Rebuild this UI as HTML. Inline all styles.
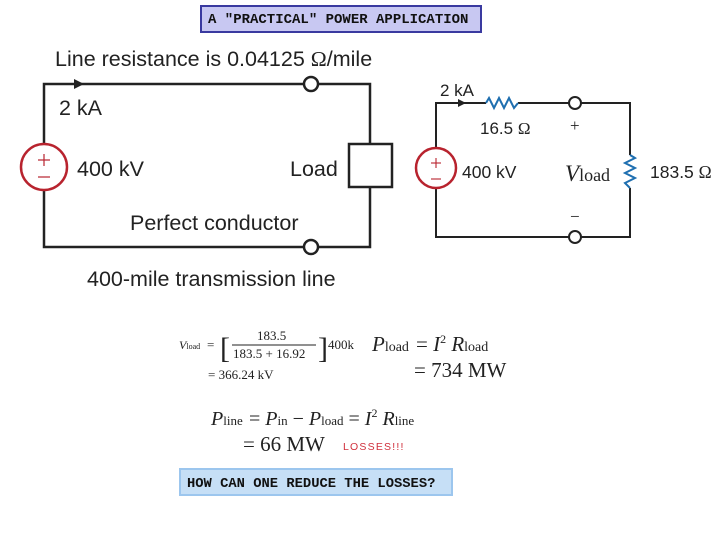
<!DOCTYPE html>
<html><head><meta charset="utf-8"><style>
html,body{margin:0;padding:0;background:#fff;}
svg{display:block;}
.s{font-family:"Liberation Sans",sans-serif;fill:#222;}
.r{font-family:"Liberation Serif",serif;fill:#222;}
.m{font-family:"Liberation Mono",monospace;font-weight:bold;fill:#111;}
</style></head><body>
<svg width="720" height="540" viewBox="0 0 720 540" xmlns="http://www.w3.org/2000/svg">
<rect x="201" y="6" width="280" height="26" fill="#c8c8f2" stroke="#3a3aa0" stroke-width="2"/>
<text x="208" y="23" class="m" font-size="14">A "PRACTICAL" POWER APPLICATION</text>

<!-- left circuit -->
<g stroke="#222" stroke-width="2.5" fill="none">
<polyline points="44,144 44,84 304,84"/>
<polyline points="318,84 370,84 370,144"/>
<polyline points="370,187 370,247 318,247"/>
<polyline points="304,247 44,247 44,190"/>
<rect x="349" y="144" width="43" height="43" fill="#fff"/>
<circle cx="311" cy="84" r="7" fill="#fff"/>
<circle cx="311" cy="247" r="7" fill="#fff"/>
</g>
<polygon points="74,79 84,84 74,89" fill="#222"/>
<circle cx="44" cy="167" r="23" fill="#fff" stroke="#b8232e" stroke-width="2.5"/>
<g stroke="#b8232e" stroke-width="1.2"><line x1="38" y1="160" x2="50" y2="160"/><line x1="44" y1="154" x2="44" y2="166"/><line x1="38" y1="177" x2="50" y2="177"/></g>
<text x="55" y="66" class="s" font-size="21.5">Line resistance is 0.04125 <tspan font-family="Liberation Serif">Ω</tspan>/mile</text>
<text x="59" y="115" class="s" font-size="21.5">2 kA</text>
<text x="77" y="176" class="s" font-size="21.5">400 kV</text>
<text x="290" y="176" class="s" font-size="21.5">Load</text>
<text x="130" y="230" class="s" font-size="21.5">Perfect conductor</text>
<text x="87" y="286" class="s" font-size="21.5">400-mile transmission line</text>

<!-- right circuit -->
<g stroke="#222" stroke-width="2" fill="none">
<polyline points="436,148 436,103 486,103"/>
<line x1="518" y1="103" x2="569" y2="103"/>
<polyline points="581,103 630,103 630,155"/>
<polyline points="630,188 630,237 581,237"/>
<polyline points="569,237 436,237 436,188"/>
<circle cx="575" cy="103" r="6" fill="#fff"/>
<circle cx="575" cy="237" r="6" fill="#fff"/>
</g>
<polygon points="458,99 466,103 458,107" fill="#222"/>
<polyline points="486,103 489,98 494,108 499,98 504,108 509,98 514,108 518,103" fill="none" stroke="#1f6fb0" stroke-width="2"/>
<polyline points="630,155 635,158 625,163 635,168 625,173 635,178 625,183 630,188" fill="none" stroke="#1f6fb0" stroke-width="2"/>
<circle cx="436" cy="168" r="20" fill="#fff" stroke="#b8232e" stroke-width="2.5"/>
<g stroke="#b8232e" stroke-width="1.1"><line x1="431" y1="163" x2="441" y2="163"/><line x1="436" y1="158" x2="436" y2="168"/><line x1="431" y1="179" x2="441" y2="179"/></g>
<text x="440" y="96" class="s" font-size="17">2 kA</text>
<text x="480" y="134" class="s" font-size="17">16.5 <tspan font-family="Liberation Serif">Ω</tspan></text>
<text x="570" y="131" class="r" font-size="17">+</text>
<text x="462" y="178" class="s" font-size="17.5">400 kV</text>
<text x="565" y="181" class="r" font-size="23" font-style="italic">V<tspan font-style="normal" font-size="18">load</tspan></text>
<text x="650" y="178" class="s" font-size="17.5">183.5 <tspan font-family="Liberation Serif">Ω</tspan></text>
<text x="570" y="222" class="r" font-size="17">−</text>

<!-- equations -->
<text x="179" y="349" class="r" font-size="12" font-style="italic">V<tspan font-style="normal" font-size="8">load</tspan></text>
<text x="207" y="349" class="r" font-size="13">=</text>
<text x="220" y="358" class="r" font-size="30" font-weight="lighter">[</text>
<text x="318" y="358" class="r" font-size="30" font-weight="lighter">]</text>
<text x="257" y="340" class="r" font-size="13">183.5</text>
<line x1="232" y1="345" x2="316" y2="345" stroke="#222" stroke-width="1"/>
<text x="233" y="358" class="r" font-size="13">183.5 + 16.92</text>
<text x="328" y="349" class="r" font-size="13">400k</text>
<text x="208" y="379" class="r" font-size="13">= 366.24 kV</text>
<text x="372" y="351" class="r" font-size="21" font-style="italic">P<tspan font-style="normal" font-size="14">load</tspan></text>
<text x="416" y="351" class="r" font-size="21">= <tspan font-style="italic">I</tspan><tspan font-size="12" dy="-8">2</tspan><tspan dy="8" font-style="italic"> R</tspan><tspan font-size="14">load</tspan></text>
<text x="414" y="377" class="r" font-size="21">= 734 MW</text>
<text x="211" y="425" class="r" font-size="20" font-style="italic">P<tspan font-style="normal" font-size="13">line</tspan></text>
<text x="249" y="425" class="r" font-size="20">= <tspan font-style="italic">P</tspan><tspan font-size="13">in</tspan> − <tspan font-style="italic">P</tspan><tspan font-size="13">load</tspan> = <tspan font-style="italic">I</tspan><tspan font-size="12" dy="-8">2</tspan><tspan dy="8" font-style="italic"> R</tspan><tspan font-size="13">line</tspan></text>
<text x="243" y="451" class="r" font-size="21">= 66 MW</text>
<text x="343" y="450" font-family="Liberation Sans,sans-serif" font-size="10.5" fill="#d0303c" letter-spacing="1.2">LOSSES!!!</text>

<rect x="180" y="469" width="272" height="26" fill="#c6dff6" stroke="#9cc6ee" stroke-width="2"/>
<text x="187" y="487" class="m" font-size="13.8">HOW CAN ONE REDUCE THE LOSSES?</text>
</svg>
</body></html>
